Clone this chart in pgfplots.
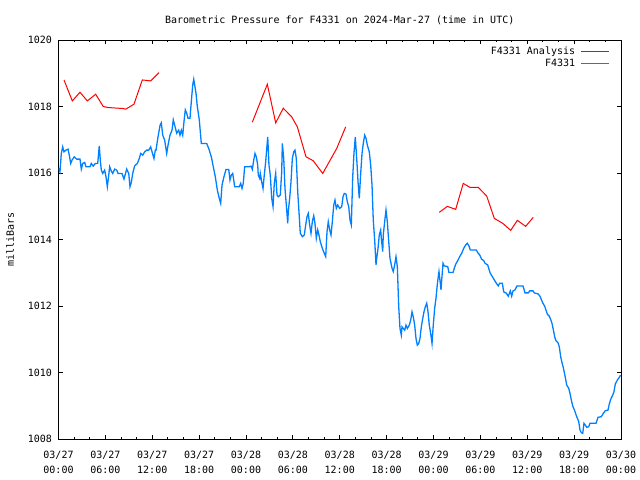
\documentclass[border=0pt]{standalone}
\usepackage{fontspec}
\setmonofont{DejaVu Sans Mono}
\usepackage{pgfplots}
\pgfplotsset{compat=1.18}
\definecolor{gpblue}{RGB}{0,128,255}
\definecolor{gpred}{RGB}{255,0,0}
\newcommand{\gpfont}{\ttfamily\fontsize{10bp}{14.5bp}\selectfont}
\begin{document}
\begin{tikzpicture}[font=\gpfont]
\begin{axis}[
  at={(58.5bp,40.7bp)}, anchor=south west,
  scale only axis, width=562.5bp, height=399.3bp,
  xmin=0, xmax=72, ymin=1008, ymax=1020,
  xtick={0,6,...,72}, minor x tick num=2,
  ytick={1008,1010,...,1020},
  yticklabels={1008,1010,1012,1014,1016,1018,1020},
  xticklabels={{03/27\\00:00},{03/27\\06:00},{03/27\\12:00},{03/27\\18:00},{03/28\\00:00},{03/28\\06:00},{03/28\\12:00},{03/28\\18:00},{03/29\\00:00},{03/29\\06:00},{03/29\\12:00},{03/29\\18:00},{03/30\\00:00}},
  /pgf/number format/assume math mode=true,
  tick align=inside, major tick length=4.5bp, minor tick length=2.3bp,
  tick style={black, line width=0.8bp},
  axis line style={black, line width=0.8bp},
  every tick label/.append style={font=\gpfont},
  xticklabel style={align=center, yshift=-8.5bp},
  yticklabel style={xshift=-3bp},
  title={Barometric Pressure for F4331 on 2024-Mar-27 (time in UTC)},
  title style={at={(axis description cs:0.5,1.0351)}, anchor=center, font=\gpfont},
  ylabel={milliBars},
  ylabel style={at={(axis description cs:-0.0862,0.5)}, anchor=center, font=\gpfont},
  unbounded coords=jump,
  legend plot pos=right,
  legend cell align=right,
  legend image code/.code={\draw[#1, line width=1.2bp] (0bp,0bp) -- (28bp,0bp);},
  legend style={draw=none, fill=none, at={(axis description cs:1,1)}, anchor=north east, xshift=-8bp, yshift=-3.5bp, font=\gpfont, row sep=-0.5bp, nodes={inner sep=1.5bp}, /tikz/every odd column/.append style={column sep=4bp}},
]
\addplot[gpred, line width=1bp] coordinates {
(0.70,1018.80) (1.77,1018.17) (2.75,1018.43) (3.69,1018.17) (4.76,1018.37) (5.73,1018.00) (6.37,1017.97) (8.29,1017.94) (8.60,1017.92) (9.66,1018.07) (10.73,1018.80) (11.80,1018.77) (12.86,1019.02)
(13.5,nan)
(24.81,1017.53) (26.73,1018.67) (27.80,1017.51) (28.77,1017.95) (29.85,1017.69) (30.57,1017.39) (31.68,1016.49) (32.61,1016.37) (33.82,1015.99) (35.61,1016.74) (36.76,1017.39)
(40,nan)
(48.74,1014.82) (49.77,1015.00) (50.84,1014.91) (51.81,1015.69) (52.67,1015.57) (53.73,1015.57) (54.81,1015.31) (55.78,1014.64) (56.86,1014.49) (57.88,1014.28) (58.73,1014.58) (59.80,1014.40) (60.77,1014.67)
};
\addlegendentry{F4331 Analysis}
\addplot[gpblue, line width=1.3bp] coordinates {
(0.00,1016.15) (0.19,1016.04) (0.36,1016.59) (0.54,1016.79) (0.70,1016.64) (0.96,1016.69) (1.22,1016.72) (1.38,1016.54) (1.56,1016.29) (1.73,1016.39) (2.02,1016.49) (2.33,1016.42) (2.75,1016.42) (2.92,1016.12) (3.10,1016.29) (3.35,1016.32) (3.52,1016.19) (4.03,1016.19) (4.20,1016.29) (4.45,1016.21) (4.71,1016.29) (5.02,1016.29) (5.15,1016.64) (5.22,1016.82) (5.35,1016.39) (5.48,1016.09) (5.66,1015.99) (5.91,1016.09) (6.08,1015.89) (6.25,1015.59) (6.43,1015.94) (6.55,1016.19) (6.76,1016.06) (6.94,1015.99) (7.19,1016.12) (7.45,1016.09) (7.62,1015.99) (8.13,1015.99) (8.38,1015.82) (8.73,1016.12) (8.99,1015.99) (9.15,1015.59) (9.32,1015.72) (9.50,1015.99) (9.75,1016.22) (10.09,1016.29) (10.34,1016.44) (10.52,1016.59) (10.78,1016.54) (11.03,1016.64) (11.29,1016.69) (11.55,1016.69) (11.80,1016.79) (11.97,1016.64) (12.22,1016.44) (12.39,1016.69) (12.48,1016.69)
(12.74,1017.09) (13.00,1017.44) (13.16,1017.51) (13.34,1017.14) (13.59,1016.99) (13.85,1016.59) (14.02,1016.84) (14.27,1017.14) (14.53,1017.29) (14.69,1017.60) (14.87,1017.44) (15.13,1017.20) (15.39,1017.29) (15.55,1017.14) (15.72,1017.29) (15.90,1017.14) (16.06,1017.54) (16.23,1017.90) (16.41,1017.80) (16.58,1017.65) (16.83,1017.65) (17.00,1018.15) (17.18,1018.65) (17.31,1018.82) (17.43,1018.65) (17.60,1018.40) (17.77,1018.00) (18.02,1017.60) (18.28,1016.89) (18.97,1016.89) (19.23,1016.74) (19.56,1016.49) (19.81,1016.19) (20.07,1015.89) (20.33,1015.49) (20.58,1015.24) (20.76,1015.09) (20.93,1015.64) (21.18,1015.89) (21.44,1016.11) (21.79,1016.11) (21.95,1015.79) (22.12,1015.94) (22.30,1015.99) (22.46,1015.74) (22.55,1015.59) (23.14,1015.59) (23.32,1015.69) (23.49,1015.54) (23.65,1015.69) (23.83,1016.19) (24.42,1016.19)
(24.64,1016.21) (24.81,1016.11) (24.99,1016.39) (25.15,1016.59) (25.32,1016.49) (25.50,1016.24) (25.57,1015.94) (25.75,1015.84) (25.83,1015.99) (26.01,1015.74) (26.18,1015.54) (26.34,1015.94) (26.52,1016.34) (26.69,1016.84) (26.78,1017.09) (26.85,1016.74) (26.94,1016.24) (27.11,1015.94) (27.29,1015.24) (27.46,1014.99) (27.62,1015.69) (27.80,1015.99) (27.97,1015.34) (28.13,1015.29) (28.39,1015.34) (28.57,1016.04) (28.65,1016.89) (28.83,1016.44) (28.99,1015.54) (29.16,1015.04) (29.34,1014.49) (29.41,1014.84) (29.59,1015.24) (29.76,1015.74) (29.93,1016.44) (30.11,1016.64) (30.27,1016.69) (30.44,1016.44) (30.62,1015.44) (30.78,1014.84) (30.95,1014.19) (31.21,1014.09) (31.46,1014.14) (31.64,1014.44) (31.81,1014.69) (31.97,1014.79) (32.15,1014.44) (32.32,1014.19) (32.49,1014.54) (32.67,1014.72) (32.83,1014.49) (33.00,1014.04) (33.18,1014.29) (33.34,1014.14) (33.51,1013.94) (33.77,1013.74) (34.02,1013.59) (34.20,1013.49) (34.37,1014.24) (34.53,1014.54) (34.71,1014.29) (34.88,1014.14) (35.05,1014.54) (35.23,1015.04) (35.39,1015.19) (35.56,1014.94) (35.74,1015.04) (35.99,1014.94) (36.25,1014.99) (36.42,1015.29) (36.58,1015.39)
(36.80,1015.37) (36.97,1015.14) (37.15,1014.99) (37.31,1014.59) (37.48,1014.44) (37.66,1015.89) (37.82,1016.59) (37.99,1017.09) (38.17,1016.44) (38.34,1015.74) (38.50,1015.24) (38.68,1015.99) (38.85,1016.59) (39.01,1016.89) (39.19,1017.14) (39.36,1017.05) (39.53,1016.84) (39.78,1016.64) (39.96,1016.24) (40.13,1015.64) (40.29,1014.59) (40.47,1013.99) (40.64,1013.24) (40.73,1013.44) (40.90,1013.74) (41.06,1014.14) (41.24,1014.29) (41.32,1014.04) (41.50,1013.64) (41.57,1014.14) (41.75,1014.54) (41.92,1014.89) (42.09,1014.54) (42.27,1013.94) (42.43,1013.44) (42.69,1013.14) (42.85,1013.04) (43.03,1013.24) (43.20,1013.49) (43.37,1013.19) (43.55,1011.98) (43.71,1011.33) (43.88,1011.13) (43.97,1011.38) (44.13,1011.33) (44.31,1011.28) (44.48,1011.43) (44.65,1011.33) (44.90,1011.43) (45.08,1011.58) (45.25,1011.83) (45.41,1011.68) (45.59,1011.43) (45.76,1011.03) (45.93,1010.83) (46.11,1010.88) (46.27,1011.03) (46.44,1011.38) (46.62,1011.63) (46.78,1011.83) (46.95,1011.98) (47.13,1012.09) (47.30,1011.83) (47.46,1011.43) (47.64,1011.18) (47.81,1010.88) (47.97,1011.43) (48.15,1011.94) (48.32,1012.24)
(48.48,1012.64) (48.61,1012.89) (48.70,1013.04) (48.87,1012.69) (48.96,1012.49) (49.05,1012.79) (49.22,1013.29) (49.38,1013.21) (49.82,1013.19) (49.98,1013.01) (50.50,1013.01) (50.66,1013.14) (50.84,1013.26) (51.10,1013.37) (51.35,1013.49) (51.61,1013.59) (51.87,1013.74) (52.12,1013.84) (52.33,1013.89) (52.54,1013.81) (52.71,1013.69) (53.48,1013.69) (53.66,1013.61) (53.91,1013.54) (54.17,1013.41) (54.43,1013.37) (54.59,1013.29) (54.94,1013.24) (55.10,1013.11) (55.27,1012.99) (55.53,1012.89) (55.78,1012.79) (56.04,1012.69) (56.29,1012.61) (56.47,1012.69) (56.81,1012.69) (56.99,1012.43) (57.32,1012.39) (57.57,1012.30) (57.83,1012.46) (58.01,1012.30) (58.18,1012.46) (58.43,1012.49) (58.69,1012.61) (59.46,1012.61) (59.71,1012.40) (60.13,1012.40) (60.31,1012.46) (60.74,1012.46) (60.90,1012.40)
(61.03,1012.39) (61.38,1012.37) (61.63,1012.30) (61.98,1012.10) (62.23,1012.00) (62.40,1011.88) (62.57,1011.76) (62.82,1011.70) (63.00,1011.60) (63.17,1011.48) (63.33,1011.30) (63.51,1011.08) (63.68,1010.96) (63.94,1010.90) (64.10,1010.78) (64.28,1010.48) (64.45,1010.30) (64.61,1010.16) (64.87,1009.86) (65.05,1009.63) (65.31,1009.53) (65.47,1009.38) (65.64,1009.18) (65.82,1009.00) (66.07,1008.86) (66.33,1008.68) (66.59,1008.53) (66.75,1008.28) (66.92,1008.20) (67.10,1008.18) (67.26,1008.48) (67.43,1008.43) (67.61,1008.36) (67.87,1008.38) (68.03,1008.48) (68.80,1008.48) (69.06,1008.66) (69.48,1008.68) (69.74,1008.78) (69.99,1008.86) (70.34,1008.88) (70.50,1009.06) (70.68,1009.20) (70.94,1009.33) (71.10,1009.43) (71.27,1009.66) (71.53,1009.78) (71.78,1009.86) (71.94,1009.93)
};
\addlegendentry{F4331}
\end{axis}
\pgfresetboundingbox
\path[use as bounding box] (0,0) rectangle (640bp,480bp);
\end{tikzpicture}
\end{document}
